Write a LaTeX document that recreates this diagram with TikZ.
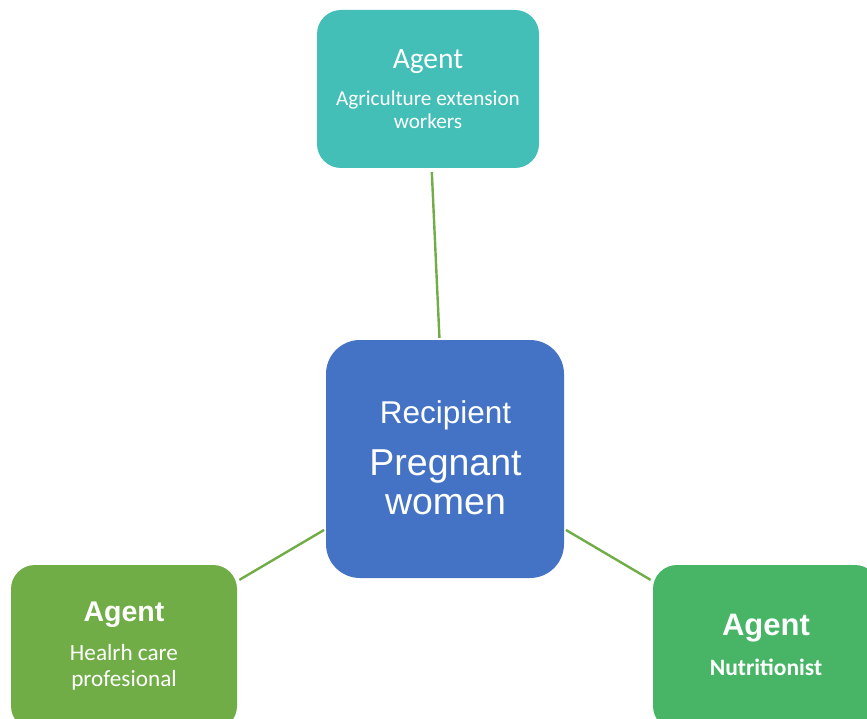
\documentclass[tikz,border=0pt]{standalone}
\usepackage{fontspec}
\setmainfont{Carlito}
\newfontfamily\arialfont{Liberation Sans}

\definecolor{agentteal}{RGB}{67,191,183}
\definecolor{recipientblue}{RGB}{68,114,196}
\definecolor{agentgreen}{RGB}{112,173,71}
\definecolor{agentlime}{RGB}{72,181,102}
\definecolor{linkgreen}{RGB}{112,173,71}

\begin{document}
\begin{tikzpicture}[
  x=1pt, y=-1pt,
  box/.style={
    rectangle,
    draw=none,
    fill=#1,
    rounded corners=24pt,
    inner sep=0pt
  },
  boxtext/.style={
    text=white,
    anchor=base,
    inner sep=0pt
  },
  link/.style={
    draw=linkgreen,
    line width=2.4pt,
    shorten <=2.5pt,
    shorten >=2pt
  }
]
\useasboundingbox (0,0) rectangle (867,719);

\node[box=agentteal, minimum width=222pt, minimum height=158pt] (agriculture) at (428,89) {};
\node[box=recipientblue, rounded corners=34pt, minimum width=238pt, minimum height=238pt] (recipient) at (445,459) {};
\node[box=agentgreen, minimum width=226pt, minimum height=165pt] (health) at (124,647.5) {};
\node[box=agentlime, minimum width=226pt, minimum height=165pt] (nutrition) at (766,647.5) {};

% top agent
\node[boxtext, font=\fontsize{29.5}{32}\selectfont] (agriculture-title) at (428,68.5) {Agent};
\node[boxtext, font=\fontsize{21.2}{23}\selectfont] (agriculture-line1) at (428,106) {Agriculture extension};
\node[boxtext, font=\fontsize{21.2}{23}\selectfont] (agriculture-line2) at (428,128.5) {workers};

% recipient
\node[boxtext, font=\arialfont\fontsize{31.5}{34}\selectfont] (recipient-title) at (445.5,423.5) {Recipient};
\node[boxtext, font=\arialfont\fontsize{37.5}{40}\selectfont] (recipient-line1) at (445.5,475) {Pregnant};
\node[boxtext, font=\arialfont\fontsize{37.5}{40}\selectfont] (recipient-line2) at (445.5,514) {women};

% bottom agents
\node[boxtext, font=\arialfont\bfseries\fontsize{28.5}{30}\selectfont] (health-title) at (124,621.5) {Agent};
\node[boxtext, font=\fontsize{23.2}{25}\selectfont] (health-line1) at (124,660) {Healrh care};
\node[boxtext, font=\fontsize{23.2}{25}\selectfont] (health-line2) at (124,686.5) {profesional};

\node[boxtext, font=\arialfont\bfseries\fontsize{31}{34}\selectfont] (nutrition-title) at (766,635) {Agent};
\node[boxtext, font=\bfseries\fontsize{23.5}{26}\selectfont] (nutrition-line1) at (766,675) {Nutritionist};

\draw[link, shorten <=4pt] (agriculture) -- (recipient);
\draw[link] (health) -- (recipient);
\draw[link] (nutrition) -- (recipient);
\end{tikzpicture}
\end{document}
